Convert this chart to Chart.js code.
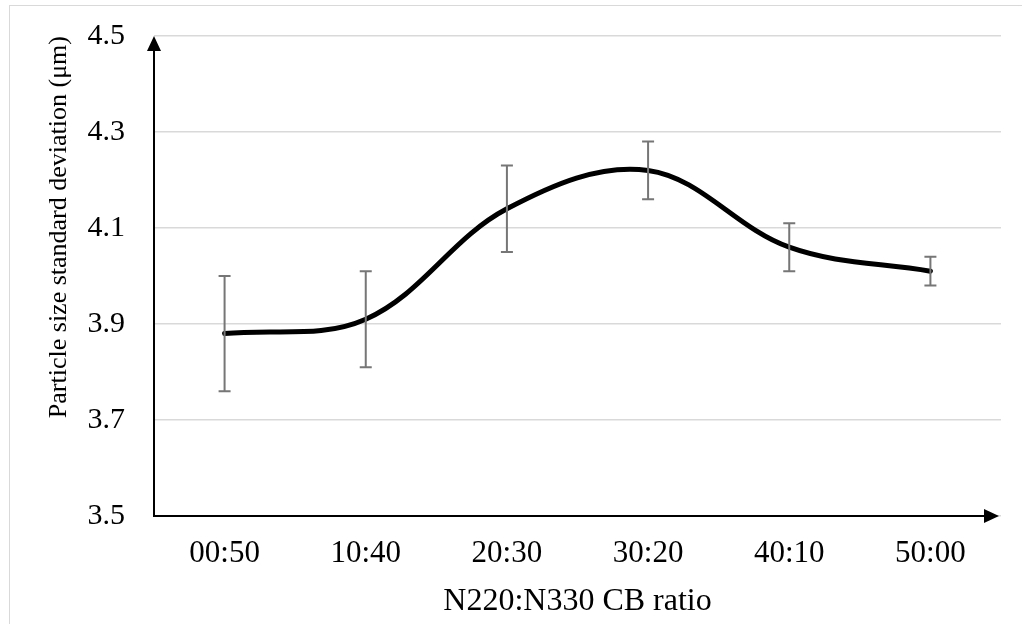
<!DOCTYPE html>
<html>
<head>
  <title>Particle size standard deviation</title>
  <script src="https://cdn.jsdelivr.net/npm/chart.js"></script>
  <style>
    body { margin: 0; background: #fff; }
  </style>
</head>
<body>
  <canvas id="canvas" width="1022" height="624"></canvas>
  <script>
    var ratios = ['00:50', '10:40', '20:30', '30:20', '40:10', '50:00'];
    var stdDev = [3.88, 3.91, 4.14, 4.22, 4.06, 4.01];
    var errLow = [3.76, 3.81, 4.05, 4.16, 4.01, 3.98];
    var errHigh = [4.00, 4.01, 4.23, 4.28, 4.11, 4.04];
    var yTicks = [3.5, 3.7, 3.9, 4.1, 4.3, 4.5];

    var serif = "'Liberation Serif', 'Times New Roman', serif";

    // frame, axis arrows and error bars (drawn from the scales)
    var extras = {
      id: 'extras',
      beforeDraw: function(chart) {
        var c = chart.ctx;
        c.save();
        c.strokeStyle = '#d9d9d9';
        c.lineWidth = 1;
        c.strokeRect(9.5, 5.5, 1200, 800);
        c.restore();
      },
      afterDatasetsDraw: function(chart) {
        var c = chart.ctx;
        var x = chart.scales.x, y = chart.scales.y;
        c.save();
        c.strokeStyle = '#767676';
        c.lineWidth = 2;
        for (var i = 0; i < ratios.length; i++) {
          var px = x.getPixelForValue(i);
          var top = y.getPixelForValue(errHigh[i]);
          var bot = y.getPixelForValue(errLow[i]);
          c.beginPath();
          c.moveTo(px, top); c.lineTo(px, bot);
          c.moveTo(px - 6, top); c.lineTo(px + 6, top);
          c.moveTo(px - 6, bot); c.lineTo(px + 6, bot);
          c.stroke();
        }
        c.restore();
      },
      afterDraw: function(chart) {
        var c = chart.ctx;
        var a = chart.chartArea;
        c.save();
        c.strokeStyle = '#000';
        c.fillStyle = '#000';
        c.lineWidth = 2;
        // y axis with arrow
        c.beginPath();
        c.moveTo(a.left, a.bottom + 1); c.lineTo(a.left, a.top + 10);
        c.stroke();
        c.beginPath();
        c.moveTo(a.left, a.top); c.lineTo(a.left - 7, a.top + 15); c.lineTo(a.left + 7, a.top + 15);
        c.closePath(); c.fill();
        // x axis with arrow
        c.beginPath();
        c.moveTo(a.left - 1, a.bottom); c.lineTo(a.right - 10, a.bottom);
        c.stroke();
        c.beginPath();
        c.moveTo(a.right - 2, a.bottom); c.lineTo(a.right - 17, a.bottom - 7); c.lineTo(a.right - 17, a.bottom + 7);
        c.closePath(); c.fill();
        c.restore();
      }
    };

    var ctx = document.getElementById('canvas').getContext('2d');
    var myChart = new Chart(ctx, {
      type: 'line',
      data: {
        labels: ratios,
        datasets: [{
          label: 'Std dev',
          data: stdDev,
          borderColor: '#000',
          borderWidth: 5,
          borderCapStyle: 'round',
          tension: 0.36,
          pointRadius: 0,
          fill: false
        }]
      },
      options: {
        responsive: false,
        animation: false,
        layout: { padding: { left: 0, top: 36, right: 21, bottom: 0 } },
        plugins: { legend: { display: false }, tooltip: { enabled: false } },
        scales: {
          x: {
            offset: true,
            grid: { display: false, drawTicks: false },
            border: { display: false },
            ticks: { color: '#000', padding: 19, font: { family: serif, size: 31 } },
            title: {
              display: true, text: 'N220:N330 CB ratio', color: '#000',
              font: { family: serif, size: 32 }, padding: { top: 0, bottom: 3 }
            },
            afterFit: function(s) {
              s.height = 108;
              s.paddingLeft = 0; s.paddingRight = 0;
            }
          },
          y: {
            min: 3.5, max: 4.5,
            afterBuildTicks: function(s) { s.ticks = yTicks.map(function(v) { return { value: v }; }); },
            grid: { color: '#d9d9d9', lineWidth: 1.5, drawTicks: false },
            border: { display: false },
            ticks: {
              color: '#000', padding: 29, font: { family: serif, size: 30 },
              callback: function(v) { return v.toFixed(1); }
            },
            title: {
              display: true, text: 'Particle size standard deviation (μm)', color: '#000',
              align: 'end', font: { family: serif, size: 26 }, padding: { top: 44, bottom: 0 }
            },
            afterFit: function(s) {
              s.width = 154;
              s.paddingTop = 0; s.paddingBottom = 0;
            }
          }
        }
      },
      plugins: [extras]
    });
  </script>
</body>
</html>
